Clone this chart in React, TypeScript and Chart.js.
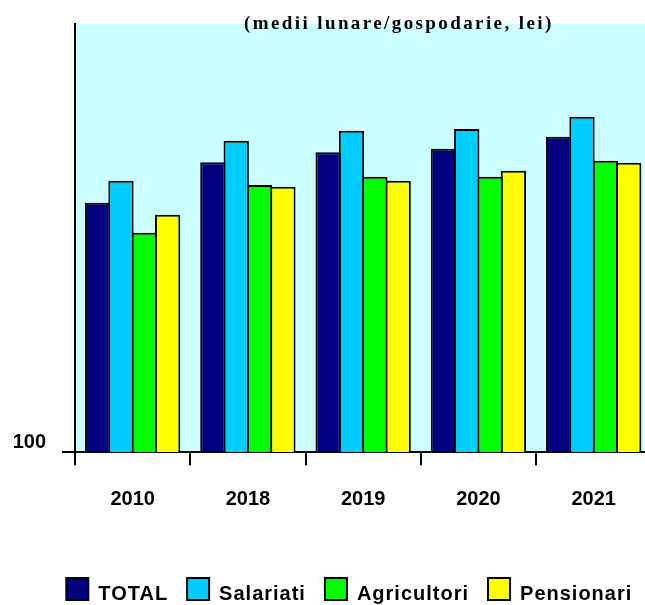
import React, { useEffect, useRef } from 'react';
import { Chart, registerables } from 'chart.js';

Chart.register(...registerables);

// ---- data ----
const categories = ['2010', '2018', '2019', '2020', '2021'];
const seriesNames = ['TOTAL', 'Salariati', 'Agricultori', 'Pensionari'];
const totalValues = [1464, 2261, 2517, 2617, 2976];
const salariatiValues = [1855, 2852, 3175, 3233, 3691];
const agricultoriValues = [1060, 1771, 1936, 1936, 2300];
const pensionariValues = [1287, 1739, 1855, 2065, 2251];
const yTickValues = [100];
const yMin = 100;
const yMax = 10000;
const titleText = '(medii lunare/gospodarie, lei)';

// ---- styles ----
const seriesColors = ['#000080', '#00CCFF', '#00FF00', '#FFFF00'];
const plotBg = '#CCFFFF';
const sansBold = { family: '"Liberation Sans", Arial, sans-serif', size: 20, weight: 'bold' as const };

const CANVAS_W = 660;
const CANVAS_H = 610;
const PAD_LEFT = 0;
const AXIS_LEFT_X = 75;
const PLOT_RIGHT_X = 651.3;
const PLOT_BOTTOM_Y = 452.3;

const bgPlugin = {
  id: 'plotBackground',
  beforeDraw(chart: any) {
    const { ctx, chartArea } = chart;
    if (!chartArea) return;
    ctx.save();
    ctx.fillStyle = plotBg;
    ctx.fillRect(chartArea.left, chartArea.top, chartArea.right - chartArea.left, chartArea.bottom - chartArea.top);
    ctx.restore();
  },
};

const titlePlugin = {
  id: 'unitsTitle',
  afterDraw(chart: any) {
    const { ctx, chartArea } = chart;
    ctx.save();
    ctx.font = 'bold 19px "Liberation Serif", "Times New Roman", serif';
    (ctx as any).letterSpacing = '2.4px';
    ctx.fillStyle = '#000';
    ctx.textAlign = 'left';
    ctx.textBaseline = 'alphabetic';
    ctx.fillText(titleText, chartArea.left + 169, chartArea.top + 5);
    ctx.restore();
  },
};

const legendSpacingPlugin = {
  id: 'legendSpacing',
  beforeLayout(chart: any) {
    const lg = chart.legend;
    if (!lg || lg.__wrapped) return;
    lg.__wrapped = true;
    const wrap = (name: string, dy: number) => {
      const orig = lg[name];
      lg[name] = function (...args: any[]) {
        const ctx = chart.ctx;
        ctx.save();
        ctx.letterSpacing = '1px';
        const origFill = ctx.fillText;
        ctx.fillText = function (t: string, x: number, y: number, mw?: number) {
          return mw === undefined ? origFill.call(this, t, x, y + dy) : origFill.call(this, t, x, y + dy, mw);
        };
        try {
          return orig.apply(this, args);
        } finally {
          delete ctx.fillText;
          ctx.restore();
        }
      };
    };
    wrap('fit', 0);
    wrap('draw', 5);
  },
};

export default function App() {
  const canvasRef = useRef<HTMLCanvasElement | null>(null);

  useEffect(() => {
    const canvas = canvasRef.current;
    if (!canvas) return;
    const seriesValues = [totalValues, salariatiValues, agricultoriValues, pensionariValues];
    const chart = new Chart(canvas, {
      type: 'bar',
      data: {
        labels: categories,
        datasets: seriesNames.map((name, i) => ({
          label: name,
          data: seriesValues[i],
          backgroundColor: seriesColors[i],
          borderColor: '#000000',
          borderWidth: 2,
          categoryPercentage: 0.81,
          barPercentage: 1.0857,
        })),
      },
      options: {
        animation: false,
        responsive: false,
        devicePixelRatio: 1,
        layout: { padding: { left: PAD_LEFT, right: CANVAS_W - PLOT_RIGHT_X, top: 24, bottom: 0 } },
        plugins: {
          title: { display: false },
          tooltip: { enabled: false },
          legend: {
            position: 'bottom',
            align: 'end',
            labels: {
              boxWidth: 22,
              boxHeight: 22,
              padding: 19,
              color: '#000',
              font: sansBold,
            },
          },
        },
        scales: {
          x: {
            type: 'category',
            afterFit: (s: any) => {
              const lh = s.chart.legend ? s.chart.legend.height : 0;
              s.height = s.chart.height - lh - PLOT_BOTTOM_Y;
            },
            grid: {
              offset: true,
              drawOnChartArea: false,
              drawTicks: true,
              tickLength: 13,
              color: '#000',
              lineWidth: 2,
            },
            border: { display: true, color: '#000', width: 2 },
            ticks: {
              color: '#000',
              font: sansBold,
              padding: 22,
              maxRotation: 0,
              autoSkip: false,
            },
          },
          y: {
            type: 'logarithmic',
            min: yMin,
            max: yMax,
            afterFit: (s: any) => {
              s.width = AXIS_LEFT_X - PAD_LEFT;
              s.paddingTop = 0;
              s.paddingBottom = 0;
            },
            afterBuildTicks: (s: any) => {
              s.ticks = yTickValues.map((v) => ({ value: v }));
            },
            grid: {
              drawOnChartArea: false,
              drawTicks: true,
              tickLength: 13,
              color: '#000',
              lineWidth: 2,
            },
            border: { display: true, color: '#000', width: 2 },
            ticks: {
              color: '#000',
              font: sansBold,
              padding: 16,
              labelOffset: -10,
              callback: (v: any) => String(v),
            },
          },
        },
      } as any,
      plugins: [bgPlugin, titlePlugin, legendSpacingPlugin],
    });
    return () => chart.destroy();
  }, []);

  return (
    <div style={{ position: 'absolute', left: 0, top: 0, width: 645, height: 605, overflow: 'hidden', background: '#fff' }}>
      <canvas ref={canvasRef} width={CANVAS_W} height={CANVAS_H} style={{ display: 'block', width: CANVAS_W, height: CANVAS_H }} />
    </div>
  );
}
